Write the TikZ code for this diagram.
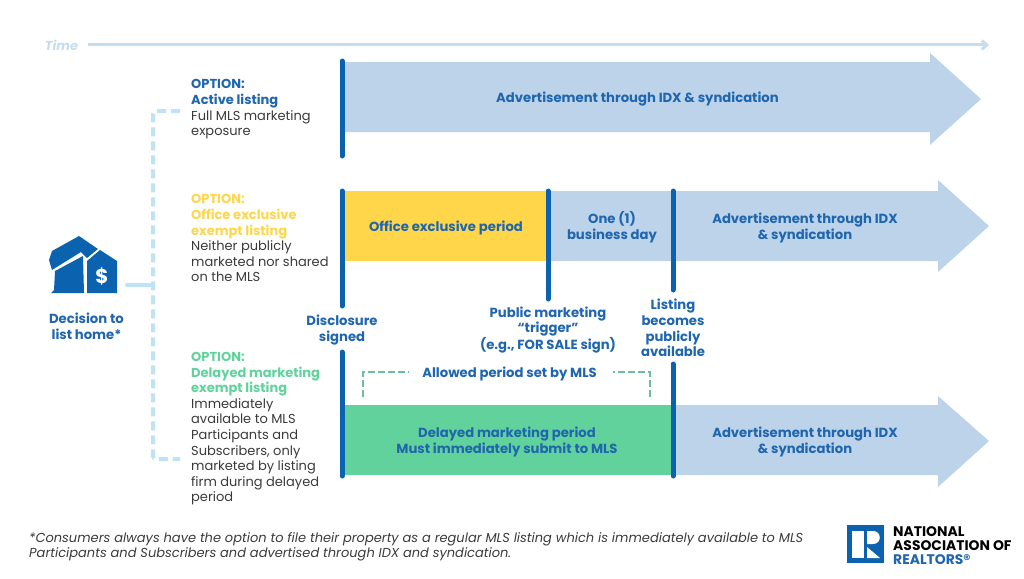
\documentclass[tikz,border=0pt]{standalone}
\usepackage{fontspec}
\usetikzlibrary{arrows.meta}
\setmainfont{Poppins}
\definecolor{navy}{HTML}{1F66AE}
\definecolor{barblue}{HTML}{0B63B0}
\definecolor{lightarrow}{HTML}{BCD3E9}
\definecolor{timeblue}{HTML}{C6DDF0}
\definecolor{dashblue}{HTML}{BEE3F9}
\definecolor{yel}{HTML}{FFD64A}
\definecolor{grn}{HTML}{62D29D}
\definecolor{dgrn}{HTML}{6DBF9C}
\definecolor{txt}{HTML}{3A3A3A}
\tikzset{
 lbl/.style={inner sep=0pt,align=center,font=\fontsize{13.2}{15.6}\selectfont\bfseries,text=navy},
 opt/.style={inner sep=0pt,align=left,anchor=north west,font=\fontsize{13}{15.6}\selectfont,text=txt},
 tbar/.style={line width=5pt,barblue,line cap=round},
 grndash/.style={dgrn,line width=2.3pt,dash pattern=on 7pt off 3pt},
}
\begin{document}
\begin{tikzpicture}[x=1pt,y=-1pt]
\useasboundingbox (0,0) rectangle (1024,578);
% time
\node[inner sep=0pt,font=\fontsize{13}{15}\selectfont\itshape\bfseries,text=timeblue] (time) at (61.5,45) {Time};
\coordinate (timeS) at (88,45);
\coordinate (timeE) at (989,45);
\draw[timeblue,line width=3pt,-{Straight Barb[length=5pt,width=9pt]}] (timeS) -- (timeE);
% arrows
\fill[lightarrow] (345,62) -- (930,62) -- (930,53) -- (981,99) -- (930,145) -- (930,132) -- (345,132) -- cycle;
\fill[lightarrow] (548,191) -- (938,191) -- (938,180) -- (989,226) -- (938,272) -- (938,261) -- (548,261) -- cycle;
\fill[lightarrow] (673,405) -- (938,405) -- (938,396) -- (989,441) -- (938,487) -- (938,475) -- (673,475) -- cycle;
\fill[yel] (345,191) rectangle (548,261);
\fill[grn] (345,405) rectangle (672,475);
% time bars
\coordinate (a1) at (342,61); \coordinate (a2) at (342,156);
\coordinate (b1) at (342,191); \coordinate (b2) at (342,306);
\coordinate (c1) at (342,352); \coordinate (c2) at (342,476);
\coordinate (d1) at (548,191); \coordinate (d2) at (548,299);
\coordinate (e1) at (673,191); \coordinate (e2) at (673,290);
\coordinate (f1) at (673,364); \coordinate (f2) at (673,476);
\foreach \p/\q in {a1/a2,b1/b2,c1/c2,d1/d2,e1/e2,f1/f2} \draw[tbar] (\p) -- (\q);
% arrow labels
\node[lbl] (adv1) at (637.5,99) {Advertisement through IDX \& syndication};
\node[lbl] (oep) at (446,228) {Office exclusive period};
\node[lbl] (obd) at (612,227) {One (1)\\business day};
\node[lbl] (adv2) at (805,228) {Advertisement through IDX\\\& syndication};
\node[lbl] (dmp) at (507,442) {Delayed marketing period\\Must immediately submit to MLS};
\node[lbl] (adv3) at (805,442) {Advertisement through IDX\\\& syndication};
\node[lbl] (ds) at (342,330) {Disclosure\\signed};
\node[lbl] (pmt) at (548,330) {Public marketing\\“trigger”\\(e.g., FOR SALE sign)};
\node[lbl] (lbpa) at (673,328) {Listing\\becomes\\publicly\\available};
\node[lbl] (apm) at (509.5,374) {Allowed period set by MLS};
% allowed period dashes
\coordinate (g1) at (363,397); \coordinate (g2) at (363,372);
\coordinate (g3) at (650,397); \coordinate (g4) at (650,372);
\coordinate (g5) at (409,372); \coordinate (g6) at (613,372);
\draw[grndash] (g1) -- (g2) -- (g5);
\draw[grndash] (g3) -- (g4) -- (g6);
% options
\node[opt] (o1) at (191,79.5) {\textcolor{navy}{\bfseries OPTION:}\\\textcolor{navy}{\bfseries Active listing}\\Full MLS marketing\\exposure};
\node[opt] (o2) at (191,194.5) {\textcolor{yel}{\bfseries OPTION:}\\\textcolor{yel}{\bfseries Office exclusive}\\\textcolor{yel}{\bfseries exempt listing}\\Neither publicly\\marketed nor shared\\on the MLS};
\node[opt] (o3) at (191,352) {\textcolor{grn}{\bfseries OPTION:}\\\textcolor{grn}{\bfseries Delayed marketing}\\\textcolor{grn}{\bfseries exempt listing}\\Immediately\\available to MLS\\Participants and\\Subscribers, only\\marketed by listing\\firm during delayed\\period};
% decision
\node[lbl] (dec) at (86.5,326) {Decision to\\list home*};
\fill[barblue] (52,270) -- (49,260) -- (52,251) -- (79,236) -- (98,249) -- (87,258) -- (81,252) -- cycle;
\fill[barblue] (55,271) -- (83,256) -- (84,293) -- (51,293) -- (54,290) -- cycle;
\fill[barblue] (87,293) -- (87,261) -- (100,250) -- (117,261) -- (117,293) -- cycle;
\node[inner sep=0pt,text=white,font=\fontsize{20}{20}\selectfont\bfseries] (dollar) at (102,276) {\$};
% dashed tree
\coordinate (t0) at (127,285); \coordinate (tj) at (153,285);
\coordinate (t1) at (180,111); \coordinate (t2) at (153,111);
\coordinate (t3) at (153,459); \coordinate (t4) at (180,459);
\draw[dashblue,line width=4pt,line cap=round] (t0) -- (tj);
\draw[dashblue,line width=4pt,dash pattern=on 9pt off 5pt,rounded corners=3pt] (t1) -- (t2) -- (t3) -- (t4);
% footnote
\node[inner sep=0pt,align=left,anchor=north west,text=txt,font=\fontsize{13}{15}\selectfont\itshape] (fn) at (29,532) {*Consumers always have the option to file their property as a regular MLS listing which is immediately available to MLS\\Participants and Subscribers and advertised through IDX and syndication.};
% logo
\fill[barblue] (847,525) rectangle (884,563);
\fill[white] (852,531) rectangle (864,558);
\fill[white] (867,531) -- (873,531) .. controls (882,531) and (882,544) .. (873,544) -- (867,544) -- cycle;
\fill[white] (867,547) -- (880,558) -- (867,558) -- cycle;
\node[inner sep=0pt,align=left,anchor=west,font=\fontsize{13.9}{14}\selectfont\bfseries] (nar) at (893,545.5) {NATIONAL\\ASSOCIATION OF\\\textcolor{navy}{REALTORS®}};
\end{tikzpicture}
\end{document}
